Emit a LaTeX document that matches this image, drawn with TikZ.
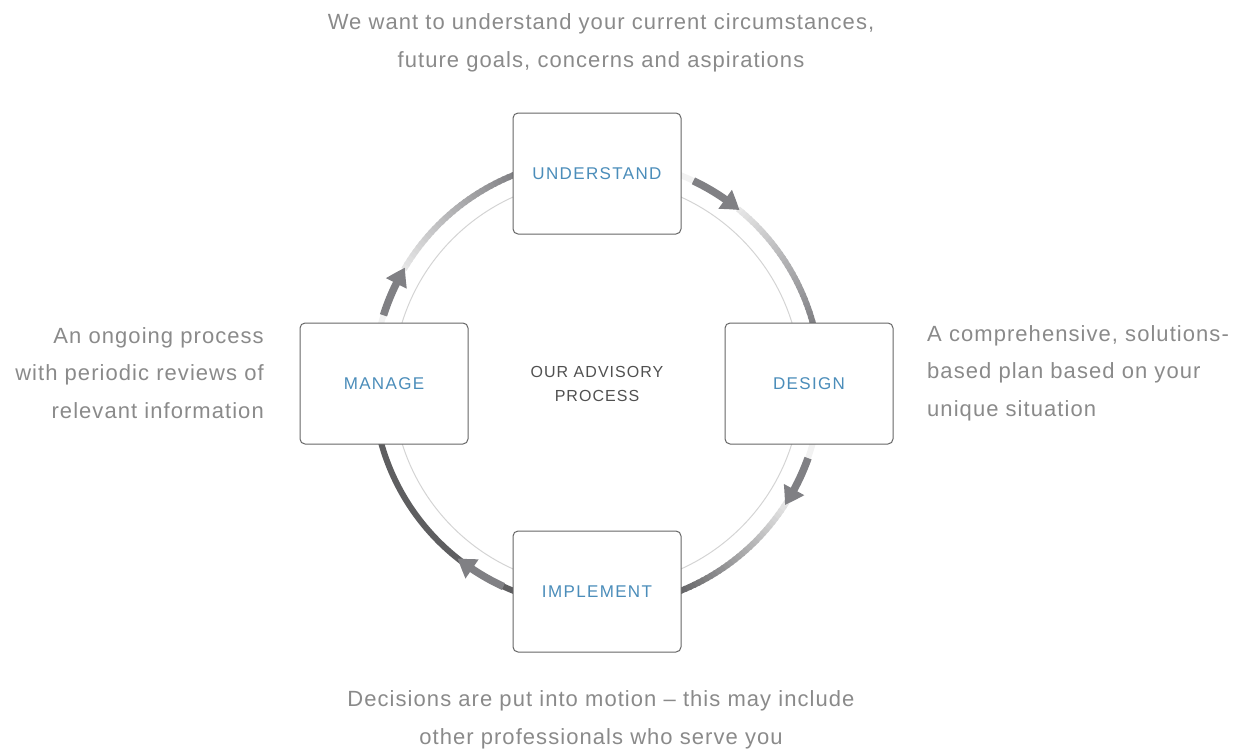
\documentclass[tikz,border=0pt]{standalone}
\usepackage{fontspec}
\setmainfont{Liberation Sans}
\newfontfamily\descfont[LetterSpace=4.8]{Liberation Sans}
\newfontfamily\lblfont[LetterSpace=8]{Liberation Sans}
\newfontfamily\ctrfont[LetterSpace=6.5]{Liberation Sans}
\usetikzlibrary{arrows.meta,bending}
\definecolor{txtgray}{HTML}{8A8A8A}
\definecolor{lblblue}{HTML}{4B8DBA}
\definecolor{ctrgray}{HTML}{505050}
\definecolor{boxgray}{HTML}{666666}
\definecolor{ringgray}{HTML}{D4D4D4}
\definecolor{arrgray}{HTML}{808084}
\definecolor{darkarc}{HTML}{5E5E60}
\definecolor{lightarc}{HTML}{E6E6E6}
\definecolor{fadearc}{HTML}{F2F2F2}
\newcommand\gradarc[4]{%
  \foreach \i in {0,...,29}{%
    \pgfmathsetmacro\aa{#1+(#2-#1)*\i/30}%
    \pgfmathsetmacro\ab{#1+(#2-#1)*(\i+1.4)/30}%
    \pgfmathsetmacro\pp{100*\i/29}%
    \draw[line width=6pt,color=#4!\pp!#3] ([shift={(597,-383)}]\aa:224) arc[start angle=\aa,end angle=\ab,radius=224];
  }}
\tikzset{
  stepbox/.style={draw=boxgray,line width=1pt,fill=white,rounded corners=5pt,minimum width=168pt,minimum height=121pt,inner sep=0pt,font=\lblfont\fontsize{17}{20}\selectfont,text=lblblue},
  desc/.style={font=\descfont\fontsize{22}{37.5}\selectfont,text=txtgray,inner sep=0pt},
  flowarrow/.style={line width=7.5pt,color=arrgray,-{Triangle[width=22pt,length=18pt,bend]}},
}
\begin{document}
\begin{tikzpicture}[x=1pt,y=1pt]
\useasboundingbox (0,0) rectangle (1245,-750);
\coordinate (C) at (597,-383);
% thin ring
\draw[ringgray,line width=1pt] (C) circle[radius=204];
% top-right arc
\draw[line width=6pt,fadearc] ([shift={(597,-383)}]69:224) arc[start angle=69,end angle=64,radius=224];
\gradarc{51}{15}{lightarc}{arrgray}
\draw[flowarrow] ([shift={(597,-383)}]64.5:224) arc[start angle=64.5,end angle=50.5,radius=224];
% right-bottom arc
\draw[line width=6pt,fadearc] ([shift={(597,-383)}]-15:224) arc[start angle=-15,end angle=-20,radius=224];
\gradarc{-32}{-69}{lightarc}{darkarc!80!arrgray}
\draw[flowarrow] ([shift={(597,-383)}]-19.6:224) arc[start angle=-19.6,end angle=-33,radius=224];
% bottom-left arc
\draw[line width=6pt,darkarc] ([shift={(597,-383)}]-111:224) arc[start angle=-111,end angle=-166,radius=224];
\draw[flowarrow] ([shift={(597,-383)}]-114.7:224) arc[start angle=-114.7,end angle=-128.5,radius=224];
% top-left arc
\draw[line width=6pt,fadearc] ([shift={(597,-383)}]166:224) arc[start angle=166,end angle=162,radius=224];
\gradarc{149.5}{111}{lightarc}{arrgray}
\draw[flowarrow] ([shift={(597,-383)}]162.4:224) arc[start angle=162.4,end angle=149,radius=224];
% boxes
\node[stepbox] (understand) at (597,-173.5) {UNDERSTAND};
\node[stepbox] (design) at (809,-383.5) {DESIGN};
\node[stepbox] (implement) at (597,-591.5) {IMPLEMENT};
\node[stepbox] (manage) at (384,-383.5) {MANAGE};
% center
\node[font=\ctrfont\fontsize{16}{24}\selectfont,text=ctrgray,align=center] (center) at (597,-384) {OUR ADVISORY\\PROCESS};
% descriptions
\node[desc,align=center] (topdesc) at (601,-43) {We want to understand your current circumstances,\\future goals, concerns and aspirations};
\node[desc,align=right,anchor=east] (leftdesc) at (264,-373) {An ongoing process\\with periodic reviews of\\relevant information};
\node[desc,align=left,anchor=west] (rightdesc) at (927,-373) {A comprehensive, solutions-\\based plan based on your\\unique situation};
\node[desc,align=center] (botdesc) at (601,-720) {Decisions are put into motion – this may include\\other professionals who serve you};
\end{tikzpicture}
\end{document}
